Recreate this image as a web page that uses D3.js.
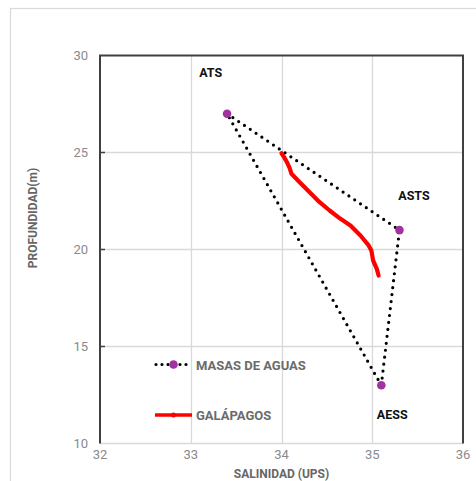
<!DOCTYPE html>
<html><head><meta charset="utf-8">
<script src="https://cdn.jsdelivr.net/npm/d3@7"></script>
<style>body{margin:0;background:#fff}svg{display:block}</style>
</head><body>
<svg id="c" width="476" height="481"></svg>
<script>
// Data
const masasNames = ["ATS", "ASTS", "AESS"];
const masasSal = [33.4, 35.3, 35.1];
const masasDepth = [27, 21, 13];
const galSal = [34.00, 34.03, 34.06, 34.09, 34.11, 34.20, 34.31, 34.42, 34.53, 34.65, 34.76, 34.87, 34.96, 34.99, 35.01, 35.05, 35.07];
const galDepth = [24.96, 24.75, 24.50, 24.20, 23.90, 23.47, 22.95, 22.44, 22.01, 21.58, 21.24, 20.72, 20.21, 19.95, 19.43, 19.00, 18.66];
const xTicks = [32, 33, 34, 35, 36];
const yTicks = [10, 15, 20, 25, 30];
const labelPos = [[33.22, 29.1], [35.46, 22.76], [35.22, 11.52]];

const svg = d3.select("#c");
const x = d3.scaleLinear().domain([32, 36]).range([100, 463]);
const y = d3.scaleLinear().domain([10, 30]).range([443.5, 55.5]);
const font = "Roboto, 'Noto Sans', sans-serif";

// outer border
svg.append("rect").attr("x", 10.5).attr("y", 8.5).attr("width", 480).attr("height", 490)
  .attr("fill", "none").attr("stroke", "#d9d9d9").attr("stroke-width", 1.2);

// grid
svg.append("g").selectAll("line").data(xTicks.slice(1, -1)).join("line")
  .attr("x1", d => Math.round(x(d)) + 0.5).attr("x2", d => Math.round(x(d)) + 0.5)
  .attr("y1", y(30)).attr("y2", y(10)).attr("stroke", "#d9d9d9").attr("stroke-width", 1.3);
svg.append("g").selectAll("line").data(yTicks.slice(0, -1)).join("line")
  .attr("x1", x(32)).attr("x2", x(36))
  .attr("y1", d => y(d)).attr("y2", d => y(d)).attr("stroke", "#d9d9d9").attr("stroke-width", 1.3);

// frame: top, left, right dark
const fr = svg.append("g").attr("stroke", "#404040").attr("stroke-width", 2).attr("fill", "none");
fr.append("path").attr("d", `M${x(32)},${y(10)}V${y(30)}H${x(36)}V${y(10)}`);
fr.selectAll("line").data(yTicks.slice(1, -1)).join("line")
  .attr("x1", x(32)).attr("x2", x(32) + 5).attr("y1", d => y(d)).attr("y2", d => y(d)).attr("stroke-width", 1.5);

// tick labels
svg.append("g").selectAll("text").data(yTicks).join("text")
  .attr("x", 88).attr("y", d => y(d) + 4.5).attr("text-anchor", "end")
  .attr("font-family", font).attr("font-size", 13).attr("fill", "#8a8a8a").text(d => d);
svg.append("g").selectAll("text").data(xTicks).join("text")
  .attr("x", d => x(d)).attr("y", 459).attr("text-anchor", "middle")
  .attr("font-family", font).attr("font-size", 13).attr("fill", "#8a8a8a").text(d => d);

// axis titles
svg.append("text").attr("x", x(34)).attr("y", 478).attr("text-anchor", "middle")
  .attr("font-family", font).attr("font-weight", "bold").attr("font-size", 12).attr("fill", "#666")
  .text("SALINIDAD (UPS)");
svg.append("text").attr("transform", "translate(37,218) rotate(-90)").attr("text-anchor", "middle")
  .attr("font-family", font).attr("font-weight", "bold").attr("font-size", 12).attr("fill", "#666")
  .text("PROFUNDIDAD(m)");

// masas polygon (dotted)
const masas = masasSal.map((s, i) => [s, masasDepth[i]]);
const line = d3.line().x(d => x(d[0])).y(d => y(d[1]));
svg.append("path").attr("d", line([...masas, masas[0]]))
  .attr("fill", "none").attr("stroke", "#000").attr("stroke-width", 3.2)
  .attr("stroke-linecap", "round").attr("stroke-dasharray", "0 7");

// galapagos line
const gal = galSal.map((s, i) => [s, galDepth[i]]);
svg.append("path").attr("d", line(gal))
  .attr("fill", "none").attr("stroke", "#ff0000").attr("stroke-width", 4.2)
  .attr("stroke-linecap", "round").attr("stroke-linejoin", "round");

// masas points
svg.append("g").selectAll("circle").data(masas).join("circle")
  .attr("cx", d => x(d[0])).attr("cy", d => y(d[1])).attr("r", 4.3).attr("fill", "#a033a0");

// labels
svg.append("g").selectAll("text").data(masasNames).join("text")
  .attr("x", (d, i) => x(labelPos[i][0])).attr("y", (d, i) => y(labelPos[i][1]) + 4.5)
  .attr("text-anchor", "middle").attr("font-family", font).attr("font-weight", "bold")
  .attr("font-size", 12.5).attr("fill", "#111").text(d => d);

// legend
const lg = svg.append("g");
lg.append("line").attr("x1", 156).attr("x2", 192).attr("y1", 364.5).attr("y2", 364.5)
  .attr("stroke", "#000").attr("stroke-width", 3.2).attr("stroke-linecap", "round").attr("stroke-dasharray", "0 6");
lg.append("circle").attr("cx", 173.5).attr("cy", 364.5).attr("r", 4.3).attr("fill", "#a033a0");
lg.append("line").attr("x1", 155).attr("x2", 192).attr("y1", 415).attr("y2", 415)
  .attr("stroke", "#ff0000").attr("stroke-width", 3.5);
lg.append("circle").attr("cx", 173.5).attr("cy", 415).attr("r", 2.5).attr("fill", "#ff0000");
lg.selectAll("text").data(["MASAS DE AGUAS", "GALÁPAGOS"]).join("text")
  .attr("x", 196).attr("y", (d, i) => [369.5, 420][i])
  .attr("font-family", font).attr("font-weight", "bold").attr("font-size", 13)
  .attr("fill", "#6b6b6b").text(d => d);
</script>
</body></html>
